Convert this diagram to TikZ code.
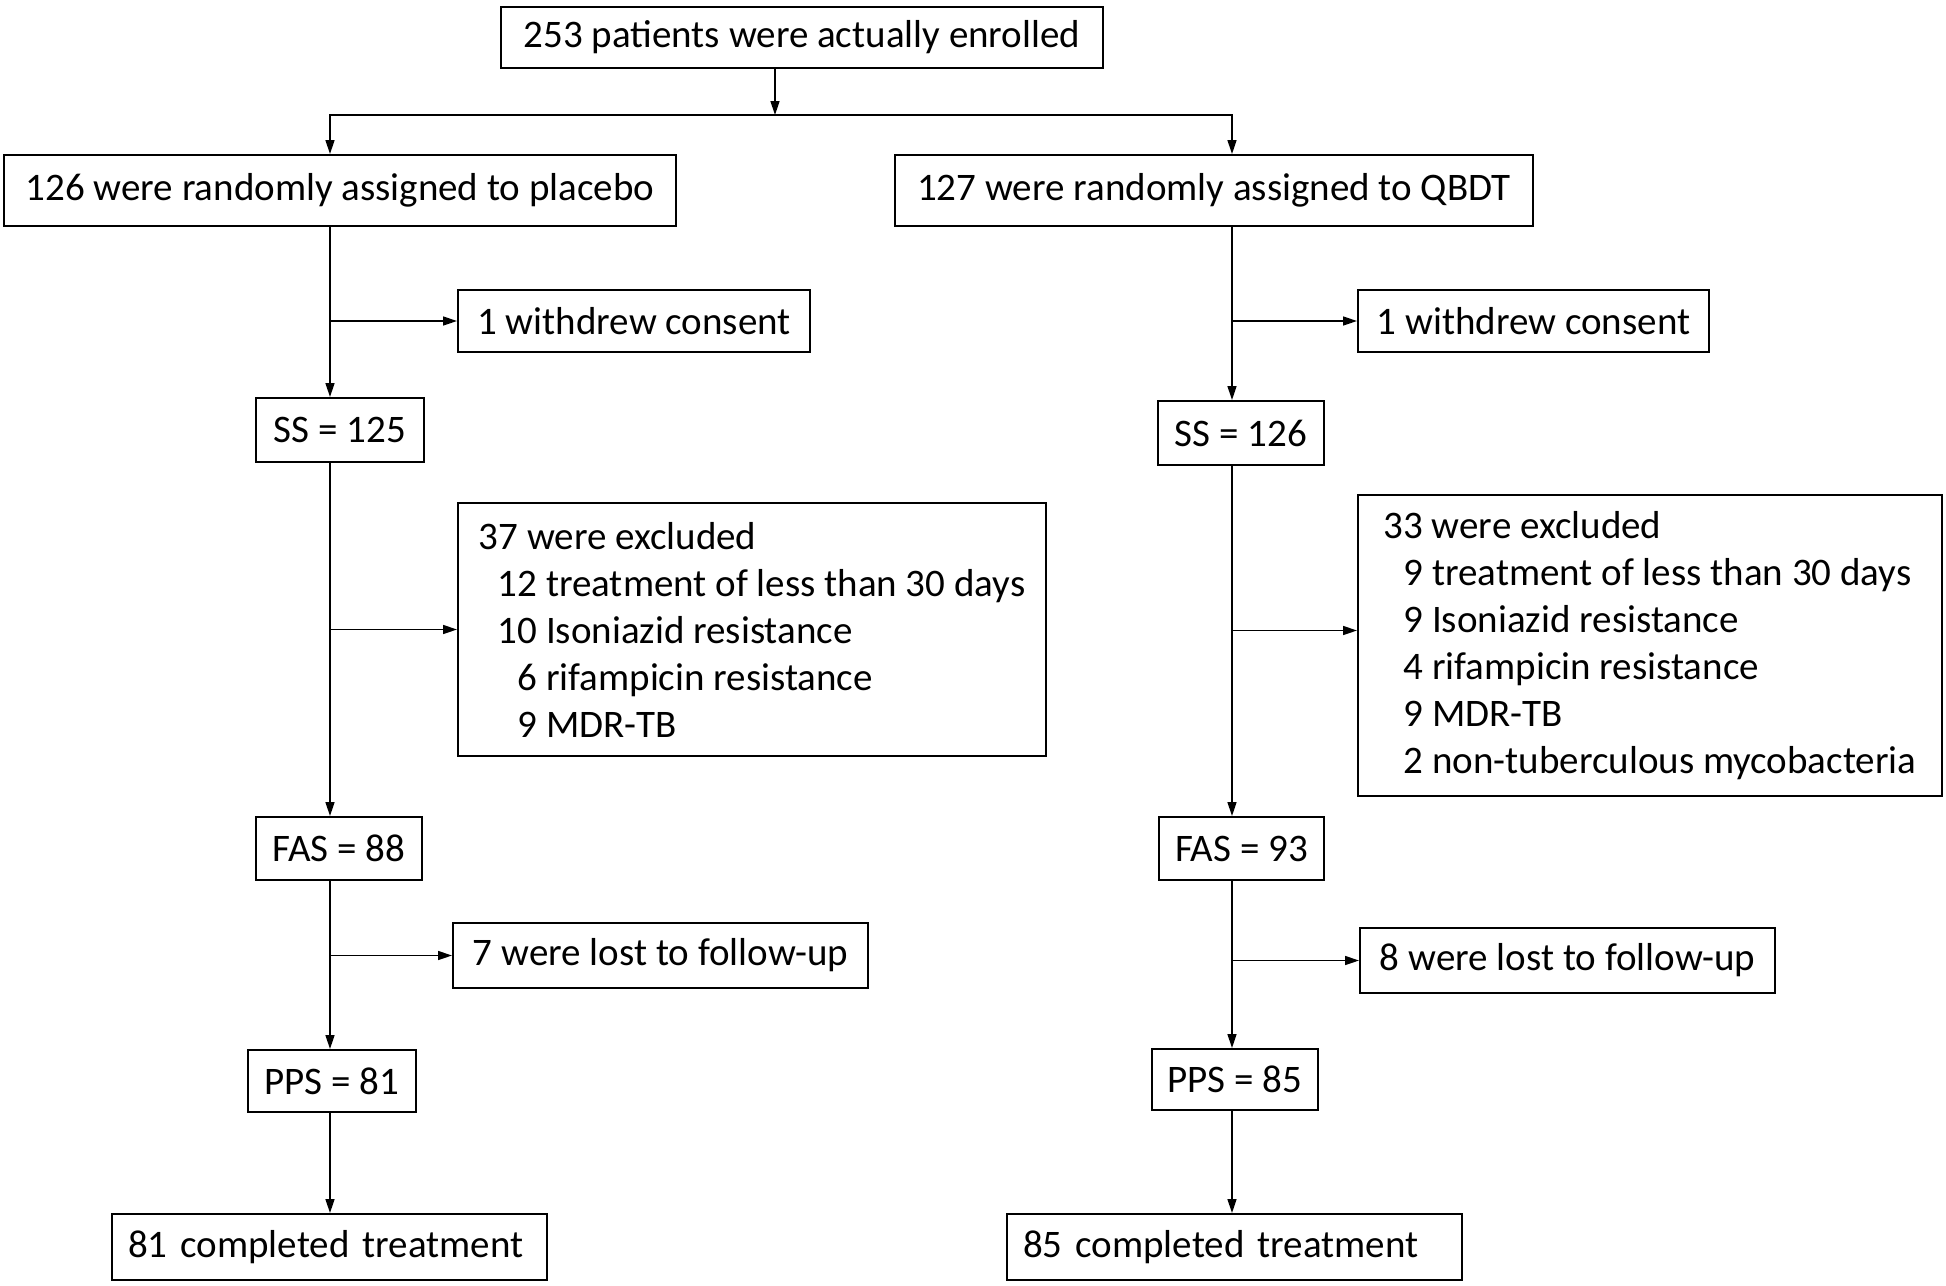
\documentclass[tikz,border=0pt]{standalone}
\usepackage{fontspec}
\setmainfont{Carlito}
\usetikzlibrary{arrows.meta}
\usetikzlibrary{calc}

\begin{document}
\begin{tikzpicture}[x=1pt,y=-1pt]
	\tikzset{
		mynode/.style={rectangle, draw=black, line width=2pt, inner xsep=16pt, inner ysep=0pt, font=\fontsize{39}{47}\selectfont, text centered},
		listnode/.style={mynode, align=left},
		myarrow/.style={-{Triangle[length=14pt,width=9pt]}, line width=1.5pt},
	}
	\useasboundingbox (0,0) rectangle (1946,1285);

	\node[mynode, minimum width=602pt, minimum height=61pt] (enrolled) at (802,37.5) {253 patients were actually enrolled};

	\node[mynode, minimum width=672pt, minimum height=71pt] (placebo) at (340,190.5) {126 were randomly assigned to placebo};
	\node[mynode, minimum width=638pt, minimum height=71pt] (qbdt) at (1214,190.5) {127 were randomly assigned to QBDT};

	\coordinate (split) at (775,115);
	\coordinate (leftx) at (330,0);
	\coordinate (rightx) at (1232,0);

	\draw[myarrow] (enrolled.south -| split) -- (split);
	\draw[myarrow] (split) -| (placebo.north -| leftx);
	\draw[myarrow] (split) -| (qbdt.north -| rightx);

	% placebo arm
	\node[mynode, minimum width=352pt, minimum height=62pt] (withdrawL) at (634,321) {1 withdrew consent};
	\node[mynode, minimum width=168pt, minimum height=64pt] (ssL) at (340,430) {SS = 125};
	\node[listnode, minimum width=588pt, minimum height=253pt] (excludedL) at (752,629.5) {37 were excluded\\
		\hspace*{19pt}12 treatment of less than 30 days\\
		\hspace*{19pt}10 Isoniazid resistance\\
		\hspace*{19pt}\phantom{1}6 rifampicin resistance\\
		\hspace*{19pt}\phantom{1}9 MDR-TB};
	\node[mynode, minimum width=166pt, minimum height=63pt] (fasL) at (339,848.5) {FAS = 88};
	\node[mynode, minimum width=415pt, minimum height=65pt] (lostL) at (660.5,955.5) {7 were lost to follow-up};
	\node[mynode, minimum width=168pt, minimum height=62pt] (ppsL) at (332,1081) {PPS = 81};
	\node[listnode, text width=403pt, minimum height=66pt] (doneL) at (329.5,1247) {81 completed treatment};

	\draw[myarrow] (placebo.south -| leftx) -- (ssL.north -| leftx);
	\draw[myarrow] (withdrawL.west -| leftx) -- (withdrawL.west);
	\draw[myarrow] (ssL.south -| leftx) -- (fasL.north -| leftx);
	\draw[myarrow] (excludedL.west -| leftx) -- (excludedL.west);
	\draw[myarrow] (fasL.south -| leftx) -- (ppsL.north -| leftx);
	\draw[myarrow] (lostL.west -| leftx) -- (lostL.west);
	\draw[myarrow] (ppsL.south -| leftx) -- (doneL.north -| leftx);

	% QBDT arm
	\node[mynode, minimum width=351pt, minimum height=62pt] (withdrawR) at (1533.5,321) {1 withdrew consent};
	\node[mynode, minimum width=166pt, minimum height=64pt] (ssR) at (1241,433) {SS = 126};
	\node[listnode, minimum width=584pt, minimum height=301pt] (excludedR) at (1650,645.5) {33 were excluded\\
		\hspace*{20pt}9 treatment of less than 30 days\\
		\hspace*{20pt}9 Isoniazid resistance\\
		\hspace*{20pt}4 rifampicin resistance\\
		\hspace*{20pt}9 MDR-TB\\
		\hspace*{20pt}2 non-tuberculous mycobacteria};
	\node[mynode, minimum width=165pt, minimum height=63pt] (fasR) at (1241.5,848.5) {FAS = 93};
	\node[mynode, minimum width=415pt, minimum height=65pt] (lostR) at (1567.5,960.5) {8 were lost to follow-up};
	\node[mynode, minimum width=166pt, minimum height=61pt] (ppsR) at (1235,1079.5) {PPS = 85};
	\node[listnode, text width=423pt, minimum height=66pt] (doneR) at (1234.5,1247) {85 completed treatment};

	\coordinate (excludedRin) at ($(excludedR.west)+(0,-15)$);

	\draw[myarrow] (qbdt.south -| rightx) -- (ssR.north -| rightx);
	\draw[myarrow] (withdrawR.west -| rightx) -- (withdrawR.west);
	\draw[myarrow] (ssR.south -| rightx) -- (fasR.north -| rightx);
	\draw[myarrow] (excludedRin -| rightx) -- (excludedRin);
	\draw[myarrow] (fasR.south -| rightx) -- (ppsR.north -| rightx);
	\draw[myarrow] (lostR.west -| rightx) -- (lostR.west);
	\draw[myarrow] (ppsR.south -| rightx) -- (doneR.north -| rightx);
\end{tikzpicture}
\end{document}
